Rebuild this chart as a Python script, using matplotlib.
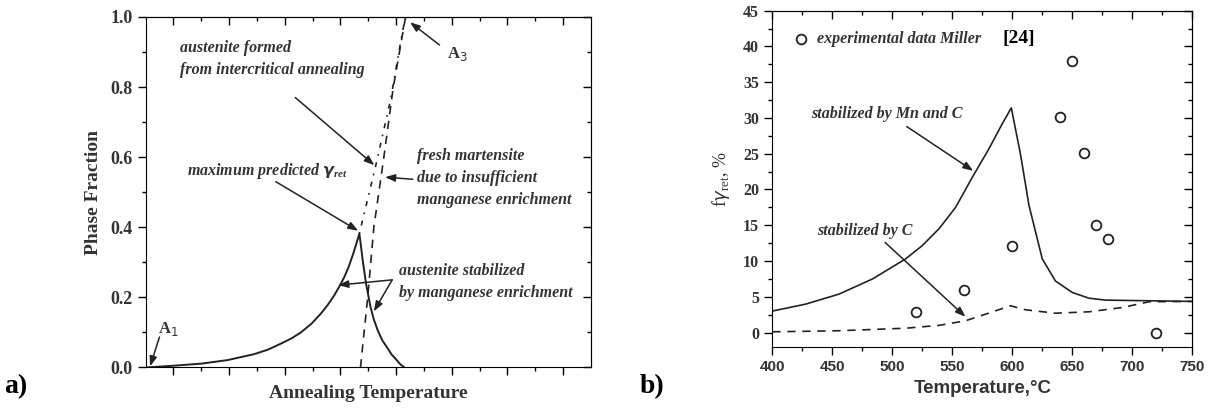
import numpy as np
import matplotlib.pyplot as plt
from matplotlib.ticker import MultipleLocator, FixedLocator, NullFormatter

SERIF = 'Liberation Serif'
SANS = 'Liberation Sans'
INK = '#333333'

# ---- panel a: schematic phase fractions (arbitrary temperature units 0..8) ----
stab_x = [0.0, 0.5, 1.0, 1.47, 1.95, 2.2, 2.43, 2.62, 2.79, 2.98, 3.15, 3.27,
          3.39, 3.48, 3.57, 3.65, 3.72, 3.78, 3.84,
          3.87, 3.9, 3.96, 4.04, 4.1, 4.17, 4.25, 4.35, 4.42, 4.5, 4.57, 4.65]
stab_y = [0.0, 0.005, 0.011, 0.021, 0.038, 0.051, 0.068, 0.083, 0.10, 0.125,
          0.154, 0.178, 0.206, 0.231, 0.258, 0.288, 0.32, 0.35, 0.382,
          0.345, 0.306, 0.239, 0.173, 0.137, 0.106, 0.078, 0.054, 0.037, 0.023,
          0.01, 0.0]
fresh_x = [3.86, 3.99, 4.10, 4.28, 4.45, 4.67]
fresh_y = [0.0, 0.2, 0.4, 0.6, 0.8, 1.0]
formed_x = [3.84, 4.13, 4.40, 4.61, 4.67]
formed_y = [0.382, 0.573, 0.763, 0.954, 1.0]

# ---- panel b: retained austenite vs temperature ----
mnc_t = [400, 427.8, 455.6, 483.3, 511, 525, 538.9, 552.8, 566.7, 580.6, 591.7,
         599.2, 607, 613.9, 625, 636, 650, 663.9, 677.8, 713.9, 750]
mnc_f = [3.0, 3.97, 5.37, 7.47, 10.28, 12.15, 14.5, 17.5, 21.7, 25.7, 29.2,
         31.4, 24.8, 17.8, 10.3, 7.2, 5.6, 4.8, 4.53, 4.44, 4.35]
c_t = [400, 455.6, 511, 538.9, 561, 577.8, 598.6, 611, 636, 664, 691.7, 714, 750]
c_f = [0.1, 0.25, 0.6, 1.0, 1.64, 2.57, 3.74, 3.18, 2.7, 2.9, 3.5, 4.3, 4.35]
exp_t = [520, 560, 600, 640, 650, 660, 670, 680, 720]
exp_f = [2.9, 5.9, 12.1, 30.1, 38.0, 25.1, 15.0, 13.1, 0.0]

fig = plt.figure(figsize=(12.12, 4.09), dpi=100)
axa = fig.add_axes([0.1201, 0.1015, 0.3675, 0.857])
axb = fig.add_axes([0.6372, 0.152, 0.3465, 0.822])


def mirror_ticks(ax, xmaj, xmin, ymaj, ymin):
    # outward ticks on bottom/left, inward copies on top/right
    ax.tick_params(which='major', direction='out', length=6, width=1)
    ax.tick_params(which='minor', direction='out', length=3, width=1)
    top = ax.secondary_xaxis('top')
    right = ax.secondary_yaxis('right')
    top.set_xticks(xmaj)
    top.set_xticks(xmin, minor=True)
    top.xaxis.set_major_formatter(NullFormatter())
    right.set_yticks(ymaj)
    right.set_yticks(ymin, minor=True)
    right.yaxis.set_major_formatter(NullFormatter())
    for sec in (top, right):
        sec.tick_params(which='major', direction='in', length=6, width=1)
        sec.tick_params(which='minor', direction='in', length=3, width=1)


# ---------------- panel a ----------------
axa.plot(stab_x, stab_y, color='#222222', lw=1.4)
axa.plot(fresh_x, fresh_y, color='#222222', lw=1.2, dashes=(5, 4))
axa.plot(formed_x, formed_y, color='#222222', lw=1.2, dashes=(1, 4, 3, 4))
axa.set_xlim(0, 8)
axa.set_ylim(0, 1.0)
axa.xaxis.set_major_locator(FixedLocator(np.arange(0.5, 8, 1)))
axa.xaxis.set_minor_locator(FixedLocator(np.arange(1, 8, 1)))
axa.xaxis.set_major_formatter(NullFormatter())
axa.yaxis.set_minor_locator(MultipleLocator(0.1))
axa.set_yticks(np.arange(0, 1.01, 0.2))
axa.set_yticklabels(['0.0', '0.2', '0.4', '0.6', '0.8', '1.0'],
                    family=SERIF, weight='bold', fontsize=13, color=INK)
mirror_ticks(axa, np.arange(0.5, 8, 1), np.arange(1, 8, 1),
             np.arange(0, 1.01, 0.2), np.arange(0.1, 1, 0.2))
axa.set_ylabel('Phase Fraction', family=SERIF, weight='bold', fontsize=14,
               color=INK, labelpad=6)
axa.set_xlabel('Annealing Temperature', family=SERIF, weight='bold', fontsize=14,
               color=INK)
axa.xaxis.set_label_coords(0.5, -0.05)

note = dict(family=SERIF, style='italic', weight='bold', fontsize=11.5, color=INK)
arrow = dict(arrowstyle='-|>,head_length=0.6,head_width=0.22', color='#222222',
             lw=1.1, shrinkA=0, shrinkB=0)

axa.text(0.61, 0.88, 'austenite formed\nfrom intercritical annealing',
         va='center', linespacing=1.5, **note)
axa.annotate('', xy=(4.11, 0.577), xytext=(2.69, 0.77), arrowprops=arrow)
axa.text(0.74, 0.56, r'maximum predicted $\boldsymbol{\gamma}_{\mathregular{ret}}$',
         va='center', **note)
axa.annotate('', xy=(3.82, 0.39), xytext=(2.34, 0.53), arrowprops=arrow)
axa.text(4.88, 0.54, 'fresh martensite\ndue to insufficient\nmanganese enrichment',
         va='center', linespacing=1.5, **note)
axa.annotate('', xy=(4.3, 0.543), xytext=(4.8, 0.537), arrowprops=arrow)
axa.text(4.56, 0.245, 'austenite stabilized\nby manganese enrichment',
         va='center', linespacing=1.5, **note)
axa.annotate('', xy=(3.46, 0.235), xytext=(4.43, 0.25), arrowprops=arrow)
axa.annotate('', xy=(4.1, 0.16), xytext=(4.43, 0.25), arrowprops=arrow)
axa.text(5.42, 0.895, r'A$_3$', family=SERIF, weight='bold', fontsize=12,
         color=INK, va='center')
axa.annotate('', xy=(4.75, 0.985), xytext=(5.28, 0.92), arrowprops=arrow)
axa.text(0.22, 0.11, r'A$_1$', family=SERIF, weight='bold', fontsize=12,
         color=INK, va='center')
axa.annotate('', xy=(0.08, 0.003), xytext=(0.25, 0.087), arrowprops=arrow)

fig.text(0.003, 0.04, 'a)', family=SERIF, weight='bold', fontsize=20)

# ---------------- panel b ----------------
axb.plot(mnc_t, mnc_f, color='#222222', lw=1.2)
axb.plot(c_t, c_f, color='#222222', lw=1.2, dashes=(5, 4))
axb.plot(exp_t, exp_f, ls='none', marker='o', ms=7, mfc='white', mec='#222222',
         mew=1.3)
axb.set_xlim(400, 750)
axb.set_ylim(-2, 45)
axb.xaxis.set_major_locator(MultipleLocator(50))
axb.xaxis.set_minor_locator(MultipleLocator(25))
axb.yaxis.set_major_locator(MultipleLocator(5))
axb.yaxis.set_minor_locator(MultipleLocator(2.5))
for lab in axb.get_xticklabels():
    lab.set_family(SANS)
    lab.set_weight('bold')
    lab.set_fontsize(11)
    lab.set_color(INK)
for lab in axb.get_yticklabels():
    lab.set_family(SERIF)
    lab.set_weight('bold')
    lab.set_fontsize(11.5)
    lab.set_color(INK)
mirror_ticks(axb, np.arange(400, 751, 50), np.arange(425, 750, 50),
             np.arange(0, 46, 5), np.arange(2.5, 45, 5))
axb.set_xlabel('Temperature,°C', family=SANS, weight='bold', fontsize=13.5,
               color=INK, labelpad=4)
axb.set_ylabel(r'f$\gamma_{\mathregular{ret}}$, %', family=SERIF, fontsize=13,
               color=INK, labelpad=8)

axb.plot([424], [41.1], ls='none', marker='o', ms=7, mfc='white',
         mec='#222222', mew=1.3)
axb.text(437, 41.1, 'experimental data Miller', va='center', **note)
axb.text(592, 41.1, '[24]', family=SERIF, weight='bold', fontsize=14,
         color='black', va='center')
axb.text(432, 30.5, 'stabilized by Mn and C', va='center', **note)
axb.annotate('', xy=(567.5, 22.6), xytext=(512, 28.8), arrowprops=arrow)
axb.text(437, 14.2, 'stabilized by C', va='center', **note)
axb.annotate('', xy=(561, 2.2), xytext=(494, 12.6), arrowprops=arrow)

fig.text(0.528, 0.04, 'b)', family=SERIF, weight='bold', fontsize=20)

fig.savefig('out.png', dpi=100)
